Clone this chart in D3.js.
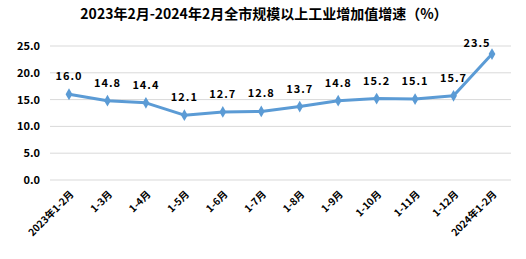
<!DOCTYPE html>
<html>
<head>
<meta charset="utf-8">
<script src="https://cdn.jsdelivr.net/npm/d3@7"></script>
<style>
  body { margin: 0; background: #fff; }
  text { font-family: "Noto Sans CJK SC", "DejaVu Sans", sans-serif; }
</style>
</head>
<body>
<script>
// data
var months = ["2023年1-2月", "1-3月", "1-4月", "1-5月", "1-6月", "1-7月", "1-8月", "1-9月", "1-10月", "1-11月", "1-12月", "2024年1-2月"]
var growth = [16.0, 14.8, 14.4, 12.1, 12.7, 12.8, 13.7, 14.8, 15.2, 15.1, 15.7, 23.5]
var yTicks = [0, 5, 10, 15, 20, 25]

var width = 526, height = 259
var svg = d3.select("body").append("svg").attr("width", width).attr("height", height)

var x = d3.scalePoint().domain(months).range([69, 492])
var y = d3.scaleLinear().domain([0, 25]).range([180, 46])

// title
svg.append("text")
  .attr("x", 264).attr("y", 19)
  .attr("text-anchor", "middle")
  .attr("font-size", 14).attr("font-weight", "bold")
  .text("2023年2月-2024年2月全市规模以上工业增加值增速（%）")

// gridlines
svg.append("g").selectAll("line").data(yTicks).join("line")
  .attr("x1", 50).attr("x2", 511)
  .attr("y1", function(d) { return y(d) }).attr("y2", function(d) { return y(d) })
  .attr("stroke", "#d9d9d9").attr("stroke-width", 1)

// y axis labels
var yAxis = d3.axisLeft(y).tickValues(yTicks).tickFormat(d3.format(".1f")).tickSize(0).tickPadding(0)
var gy = svg.append("g").attr("transform", "translate(40,0)").call(yAxis)
gy.select(".domain").remove()
gy.selectAll("text").attr("font-size", 11).attr("font-weight", "bold")
  .attr("fill", "#000").style("font-family", "'Noto Sans CJK SC', sans-serif")

// x axis labels
var xAxis = d3.axisBottom(x).tickSize(0).tickPadding(0)
var gx = svg.append("g").attr("transform", "translate(0,190)").call(xAxis)
gx.select(".domain").remove()
gx.selectAll("text")
  .attr("font-size", 10).attr("font-weight", "bold").attr("fill", "#000")
  .style("font-family", "'Noto Sans CJK SC', sans-serif")
  .attr("text-anchor", "end")
  .attr("dy", "0.7em")
  .attr("transform", "rotate(-45)")

// line
var lineFunc = d3.line()
  .x(function(d, i) { return x(months[i]) })
  .y(function(d) { return y(d) })

svg.append("path")
  .attr("d", lineFunc(growth))
  .attr("fill", "none")
  .attr("stroke", "#5b9bd5")
  .attr("stroke-width", 3)
  .attr("stroke-linejoin", "round")

// markers
svg.append("g").selectAll("path").data(growth).join("path")
  .attr("d", d3.symbol().type(d3.symbolDiamond).size(40))
  .attr("transform", function(d, i) { return "translate(" + x(months[i]) + "," + y(d) + ")" })
  .attr("fill", "#5b9bd5")

// value labels (last one sits left of its point)
svg.append("g").selectAll("text").data(growth).join("text")
  .attr("x", function(d, i) { return x(months[i]) - (i == 11 ? 15 : 0) })
  .attr("y", function(d, i) { return i == 11 ? y(d) - 7 : y(d) - 14 })
  .attr("text-anchor", "middle")
  .attr("font-size", 11).attr("font-weight", "bold")
  .attr("letter-spacing", 1)
  .text(function(d) { return d.toFixed(1) })
</script>
</body>
</html>
